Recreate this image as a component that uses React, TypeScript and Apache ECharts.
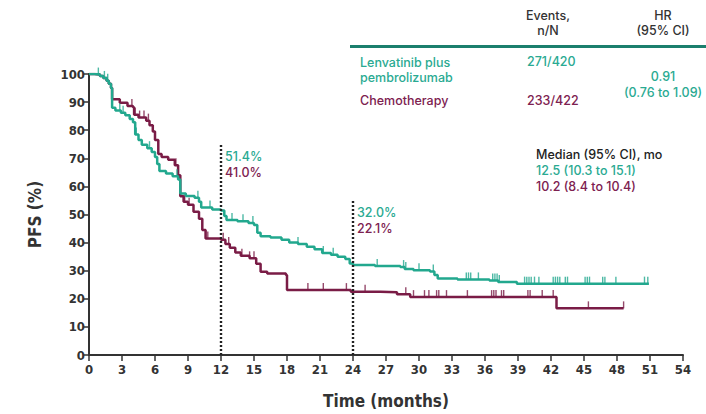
import React, { useEffect, useRef } from "react";
import * as echarts from "echarts";

// Kaplan-Meier step data (time in months, PFS %)
const lenvTimes = [0, 0.5, 1.0, 1.3, 1.6, 1.8, 2.0, 2.1, 2.4, 2.9, 3.3, 3.7, 4.0, 4.2, 4.5, 4.8, 5.3, 5.7, 6.0, 6.2, 6.4, 7.0, 7.6, 8.1, 8.3, 8.8, 9.6, 10.0, 10.2, 11.2, 12.0, 12.3, 12.5, 13.5, 14.5, 15.0, 15.3, 15.6, 16.5, 17.5, 18.2, 19.0, 19.8, 20.5, 21.2, 22.0, 22.6, 23.3, 23.7, 24.0, 26.0, 28.3, 28.7, 29.5, 31.0, 31.4, 31.7, 33.5, 36.4, 37.2, 38.9, 50.9];
const lenvPfs = [100, 99.8, 99.3, 98.6, 97.6, 96.5, 95.0, 88.0, 87.0, 86.2, 85.3, 84.0, 82.8, 78.5, 76.5, 74.8, 73.6, 72.2, 70.5, 68.0, 65.5, 64.6, 63.6, 62.5, 57.5, 56.6, 56.0, 54.5, 52.5, 51.8, 51.4, 49.5, 48.0, 47.6, 47.0, 46.3, 43.5, 42.3, 41.8, 41.0, 40.0, 39.5, 38.5, 37.6, 36.3, 35.7, 35.0, 34.2, 32.6, 32.0, 31.7, 31.3, 30.6, 30.2, 29.7, 28.5, 27.2, 26.9, 26.5, 26.0, 25.4, 25.4];
const lenvCensored = [0.85, 1.4, 1.7, 2.8, 3.1, 4.3, 5.5, 8.0, 9.9, 11.0, 13.0, 14.0, 14.9, 19.0, 21.3, 22.2, 26.2, 28.6, 28.8, 30.0, 31.3, 34.3, 34.5, 34.7, 35.4, 36.7, 36.9, 37.1, 37.3, 39.6, 39.8, 40.0, 40.2, 40.5, 40.9, 42.2, 42.4, 42.6, 42.8, 43.3, 43.5, 45.1, 45.3, 45.5, 46.7, 46.9, 47.9, 50.5, 50.8];

const chemoTimes = [0, 0.5, 1.0, 1.3, 1.6, 1.8, 2.0, 2.1, 2.8, 3.5, 4.0, 4.1, 4.5, 5.2, 5.5, 5.8, 6.0, 6.3, 6.6, 7.2, 7.8, 8.1, 8.3, 8.6, 9.0, 9.5, 10.0, 10.3, 10.6, 12.0, 12.4, 12.8, 13.3, 13.8, 14.6, 15.2, 15.6, 16.2, 17.9, 18.0, 23.4, 23.8, 26.5, 28.0, 29.2, 42.4, 42.5, 48.6];
const chemoPfs = [100, 99.8, 99.3, 98.6, 97.6, 96.5, 95.0, 91.0, 89.8, 88.6, 88.2, 85.5, 84.5, 83.4, 81.8, 79.5, 76.5, 71.5, 70.5, 69.5, 67.5, 64.0, 56.5, 54.5, 53.5, 51.0, 48.5, 44.5, 41.5, 41.0, 39.5, 38.2, 36.5, 35.3, 34.4, 32.5, 29.6, 29.0, 28.5, 23.1, 23.1, 22.5, 22.3, 21.6, 20.6, 20.6, 16.6, 16.6];
const chemoCensored = [3.9, 4.2, 4.6, 5.0, 5.4, 7.9, 8.7, 9.1, 10.6, 10.8, 12.2, 12.7, 13.9, 14.6, 15.0, 19.9, 21.3, 23.4, 25.1, 28.8, 29.5, 30.5, 30.9, 31.6, 31.8, 32.5, 34.4, 36.6, 36.8, 37.0, 37.5, 37.7, 39.9, 40.1, 41.2, 42.2, 45.4, 48.6];

const xTicks = [0, 3, 6, 9, 12, 15, 18, 21, 24, 27, 30, 33, 36, 39, 42, 45, 48, 51, 54];
const yTicks = [0, 10, 20, 30, 40, 50, 60, 70, 80, 90, 100];

const landmarkTimes = [12, 24];
const landmarkTops = [75, 55];

const TEAL = "#22a88e";
const MAROON = "#7a1c46";
const TEAL_TEXT = "#2aaa92";
const MAROON_TEXT = "#7d2150";
const AXIS = "#333333";

const pair = (t: number[], v: number[]) => t.map((x, i) => [x, v[i]]);
const valueAt = (t: number[], v: number[], x: number) => {
  let idx = 0;
  for (let i = 0; i < t.length; i++) if (t[i] <= x) idx = i;
  return v[idx];
};

export default function App() {
  const ref = useRef<HTMLDivElement>(null);
  useEffect(() => {
    if (!ref.current) return;
    const chart = echarts.init(ref.current, undefined, { renderer: "svg" });
    const txt = { fontFamily: "Inter, Roboto, sans-serif", fontSize: 12.5, fontWeight: 500 };
    const narrow = "'DejaVu Sans Condensed', 'Liberation Sans Narrow', sans-serif";
    const axisFont = { fontFamily: narrow, fontSize: 13, color: AXIS, fontWeight: "bold" };
    chart.setOption({
      animation: false,
      grid: { left: 89, right: 23, top: 74, bottom: 59, containLabel: false },
      xAxis: {
        type: "value",
        min: 0,
        max: 54,
        interval: 3,
        name: "Time (months)",
        nameLocation: "middle",
        nameGap: 37,
        nameTextStyle: { fontFamily: narrow, fontSize: 17, color: AXIS, fontWeight: "bold" },
        axisLine: { lineStyle: { color: AXIS, width: 2 } },
        axisTick: { length: 6, lineStyle: { color: AXIS, width: 1.5 } },
        axisLabel: { ...axisFont, margin: 8, formatter: (v: number) => (xTicks.includes(v) ? String(v) : "") },
        splitLine: { show: false },
      },
      yAxis: {
        type: "value",
        min: 0,
        max: 100,
        interval: 10,
        name: "PFS (%)",
        nameLocation: "middle",
        nameGap: 46,
        nameRotate: 90,
        nameTextStyle: { fontFamily: narrow, fontSize: 17, color: AXIS, fontWeight: "bold" },
        axisLine: { show: true, lineStyle: { color: AXIS, width: 2 } },
        axisTick: { show: true, length: 6, lineStyle: { color: AXIS, width: 1.5 } },
        axisLabel: { ...axisFont, margin: 4, formatter: (v: number) => (yTicks.includes(v) ? String(v) : "") },
        splitLine: { show: false },
      },
      series: [
        {
          type: "line",
          name: "Lenvatinib plus pembrolizumab",
          step: "end",
          data: pair(lenvTimes, lenvPfs),
          showSymbol: false,
          symbol: "none",
          lineStyle: { color: TEAL, width: 2.5 },
          z: 3,
          markLine: {
            silent: true,
            symbol: ["none", "none"],
            label: { show: false },
            lineStyle: { color: "#222", width: 2.4, type: [2, 2] },
            data: landmarkTimes.map((t, i) => [{ coord: [t, 0] }, { coord: [t, landmarkTops[i]] }]),
          },
        },
        {
          type: "line",
          name: "Chemotherapy",
          step: "end",
          data: pair(chemoTimes, chemoPfs),
          showSymbol: false,
          symbol: "none",
          lineStyle: { color: MAROON, width: 2.5 },
          z: 2,
        },
        {
          type: "scatter",
          data: lenvCensored.map((t) => [t, valueAt(lenvTimes, lenvPfs, t)]),
          symbol: "rect",
          symbolSize: [1.4, 7],
          symbolOffset: [0, -3.5],
          itemStyle: { color: TEAL },
          z: 3,
        },
        {
          type: "scatter",
          data: chemoCensored.map((t) => [t, valueAt(chemoTimes, chemoPfs, t)]),
          symbol: "rect",
          symbolSize: [1.4, 7],
          symbolOffset: [0, -3.5],
          itemStyle: { color: MAROON },
          z: 2,
        },
      ],
      graphic: [
        { type: "text", x: 548, y: 8, style: { ...txt, text: "Events,\nn/N", fill: "#333", align: "center", lineHeight: 15 } },
        { type: "text", x: 663, y: 8, style: { ...txt, text: "HR\n(95% CI)", fill: "#333", align: "center", lineHeight: 15 } },
        { type: "rect", shape: { x: 350, y: 45, width: 356, height: 3 }, style: { fill: "#1b7f6d" } },
        { type: "text", x: 360, y: 55, style: { ...txt, text: "Lenvatinib plus\npembrolizumab", fill: TEAL_TEXT, lineHeight: 15 } },
        { type: "text", x: 527, y: 55, style: { ...txt, text: "271/420", fill: TEAL_TEXT } },
        { type: "text", x: 663, y: 68, style: { ...txt, text: "0.91\n(0.76 to 1.09)", fill: TEAL_TEXT, align: "center", lineHeight: 16 } },
        { type: "text", x: 360, y: 94, style: { ...txt, text: "Chemotherapy", fill: MAROON_TEXT } },
        { type: "text", x: 527, y: 94, style: { ...txt, text: "233/422", fill: MAROON_TEXT } },
        { type: "text", x: 536, y: 148, style: { ...txt, text: "Median (95% CI), mo", fill: "#222" } },
        { type: "text", x: 536, y: 164, style: { ...txt, text: "12.5 (10.3 to 15.1)", fill: TEAL_TEXT } },
        { type: "text", x: 536, y: 180, style: { ...txt, text: "10.2 (8.4 to 10.4)", fill: MAROON_TEXT } },
        { type: "text", x: 225, y: 150, style: { ...txt, text: "51.4%", fill: TEAL_TEXT } },
        { type: "text", x: 225, y: 166, style: { ...txt, text: "41.0%", fill: MAROON_TEXT } },
        { type: "text", x: 357, y: 206, style: { ...txt, text: "32.0%", fill: TEAL_TEXT } },
        { type: "text", x: 357, y: 222, style: { ...txt, text: "22.1%", fill: MAROON_TEXT } },
      ],
    });
    return () => chart.dispose();
  }, []);
  return <div ref={ref} style={{ position: "fixed", left: 0, top: 0, width: 706, height: 414, background: "#fff" }} />;
}
